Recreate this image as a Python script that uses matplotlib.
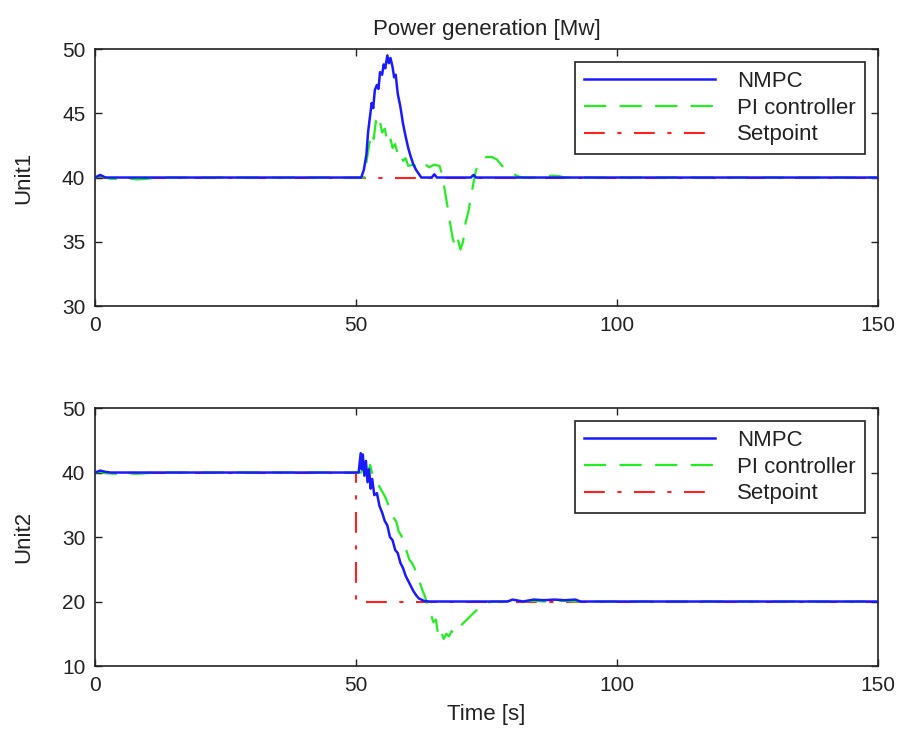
import matplotlib
matplotlib.use("Agg")
import matplotlib.pyplot as plt

plt.rcParams['font.family'] = ['Liberation Sans', 'DejaVu Sans']

# ---- Unit1 ----
t_nmpc1 = [0, 1, 1.5, 2, 3, 51, 51.5, 52, 52.3, 52.6, 53, 53.3, 53.6, 54, 54.3, 54.6,
           55, 55.3, 55.6, 56, 56.3, 56.6, 57, 57.3, 57.6, 58, 58.5, 59, 59.5, 60,
           60.5, 61, 61.5, 62, 62.5, 64.5, 65, 65.5, 72, 72.5, 73, 150]
p_nmpc1 = [40, 40.2, 40.1, 40, 40, 40, 40.6, 41.8, 43.5, 44.5, 45.8, 45.4, 46.8, 47.2, 46.9, 48.2,
           48.0, 48.8, 48.5, 49.5, 48.9, 49.3, 48.6, 47.8, 48.0, 46.5, 45.5, 44.2, 43.2, 42.3,
           41.6, 41.0, 40.6, 40.3, 40.0, 40.0, 40.25, 40.0, 40.0, 40.2, 40.0, 40]

t_pi1 = [0, 1, 2, 3, 4, 6, 8, 10, 12, 51.5, 52, 52.5, 53, 53.4, 53.8, 54.2, 54.6, 55,
         55.5, 56, 56.5, 57, 57.5, 58, 58.5, 59, 59.5, 60, 61, 62, 63, 64, 65, 66, 66.5,
         67, 67.5, 68, 68.5, 69, 69.5, 70, 70.5, 71, 71.5, 72, 72.5, 73, 74, 75, 76, 77,
         78, 79, 80, 81, 82, 86, 87.5, 89, 90, 150]
p_pi1 = [40, 40.1, 40.0, 39.9, 39.9, 39.95, 39.85, 39.9, 40, 40, 41.2, 42.5, 43.5, 43.0, 44.4, 43.8, 44.3, 43.5,
         43.8, 42.8, 43.2, 42.3, 42.6, 41.8, 42.0, 41.3, 41.5, 40.9, 41.0, 40.7, 41.1, 40.8, 41.0, 40.9, 40.2,
         39.0, 37.8, 36.5, 35.3, 34.6, 35.2, 34.4, 35.0, 36.5, 37.3, 38.4, 39.6, 40.6, 41.3, 41.6, 41.6, 41.4,
         40.9, 40.6, 40.3, 40.1, 40, 40, 40.15, 40.1, 40, 40]

t_sp1 = [0, 150]
p_sp1 = [40, 40]

# ---- Unit2 ----
t_nmpc2 = [0, 1, 2, 3, 50.5, 50.9, 51.1, 51.3, 51.6, 51.9, 52.2, 52.5, 52.8, 53.1, 53.5, 54,
           54.5, 55, 55.5, 56, 56.5, 57, 57.5, 58, 58.5, 59, 59.5, 60, 60.5, 61, 61.5, 62,
           63, 64, 79, 80, 82, 84, 86, 88, 90, 92, 93, 150]
p_nmpc2 = [40, 40.3, 40.1, 40, 40, 43.0, 40.5, 42.8, 39.5, 41.8, 38.5, 40.5, 37.5, 39.0, 36.5, 36.8,
           34.8, 33.8, 32.5, 31.8, 30.0, 29.5, 28.0, 27.5, 26.0, 25.2, 24.0, 23.2, 22.4, 21.6, 21.0, 20.5,
           20.1, 20, 20, 20.3, 20.0, 20.3, 20.2, 20.3, 20.2, 20.3, 20, 20]

t_pi2 = [0, 1, 2, 4, 6, 8, 10, 12, 51, 51.6, 52.2, 52.7, 53.2, 53.7, 54.2, 54.7, 55.2, 55.7,
         56.2, 56.7, 57.2, 57.7, 58.2, 58.7, 59.2, 59.7, 60.2, 60.7, 61.2, 61.7, 62.2, 62.7,
         63.2, 63.7, 64.2, 64.8, 65.3, 65.8, 66.3, 66.8, 67.3, 67.8, 68.3, 68.8, 69.3, 70,
         71, 72, 73, 74, 75, 76, 78, 80, 82, 84, 86, 88, 90, 92, 150]
p_pi2 = [40, 40.1, 39.9, 39.8, 39.9, 39.8, 39.9, 40, 40, 41.5, 39.8, 41.2, 39.5, 39.0, 38.2, 37.5, 36.8, 36.0,
         35.0, 34.3, 33.0, 32.4, 30.8, 30.2, 28.6, 27.8, 26.5, 26.0, 25.2, 23.8, 23.0, 21.8,
         20.8, 19.5, 18.5, 16.8, 17.2, 14.5, 15.3, 14.2, 15.0, 14.6, 15.4, 15.0, 15.8, 16.2,
         17.0, 17.8, 18.6, 19.2, 19.7, 20.0, 20.0, 20.1, 20.0, 20.1, 20.0, 20.1, 20.1, 20.0, 20]

t_sp2 = [0, 50, 50, 150]
p_sp2 = [40, 40, 20, 20]

labels = ['NMPC', 'PI controller', 'Setpoint']

fig = plt.figure(figsize=(9.11, 7.36), dpi=100)
ax1 = fig.add_axes([0.1043, 0.5842, 0.8595, 0.3492])
ax2 = fig.add_axes([0.1043, 0.0951, 0.8595, 0.3505])

txt = '#222222'

def draw(ax, tn, pn, tp, pp, ts, ps):
    h_sp, = ax.plot(ts, ps, color='#ff2020', lw=1.5, ls=(0, (10, 6, 2, 6)), zorder=1)
    h_pi, = ax.plot(tp, pp, color='#22ee22', lw=1.6, ls=(0, (10, 6)), zorder=2)
    h_n, = ax.plot(tn, pn, color='#1a1aff', lw=1.8, zorder=3)
    ax.set_xlim(0, 150)
    ax.set_xticks([0, 50, 100, 150])
    ax.tick_params(direction='in', top=True, right=True, length=5, labelsize=15,
                   colors=txt, width=1)
    ax.tick_params(axis='x', pad=7)
    ax.tick_params(axis='y', pad=7)
    for s in ax.spines.values():
        s.set_color(txt)
        s.set_linewidth(1.2)
    leg = ax.legend([h_n, h_pi, h_sp], labels, loc='upper right', fontsize=16,
                    handlelength=5.9, handletextpad=1.0, labelspacing=0.25,
                    borderpad=0.4, borderaxespad=0.6, fancybox=False, framealpha=1)
    leg.get_frame().set_edgecolor(txt)
    leg.get_frame().set_linewidth(1.2)
    for t in leg.get_texts():
        t.set_color(txt)

draw(ax1, t_nmpc1, p_nmpc1, t_pi1, p_pi1, t_sp1, p_sp1)
ax1.set_ylim(30, 50)
ax1.set_yticks([30, 35, 40, 45, 50])
ax1.set_ylabel('Unit1', fontsize=16, color=txt, labelpad=20)
ax1.set_title('Power generation [Mw]', fontsize=16, color=txt, pad=10)

draw(ax2, t_nmpc2, p_nmpc2, t_pi2, p_pi2, t_sp2, p_sp2)
ax2.set_ylim(10, 50)
ax2.set_yticks([10, 20, 30, 40, 50])
ax2.set_ylabel('Unit2', fontsize=16, color=txt, labelpad=20)
ax2.set_xlabel('Time [s]', fontsize=16, color=txt, labelpad=7)

fig.savefig('out.png', dpi=100)
